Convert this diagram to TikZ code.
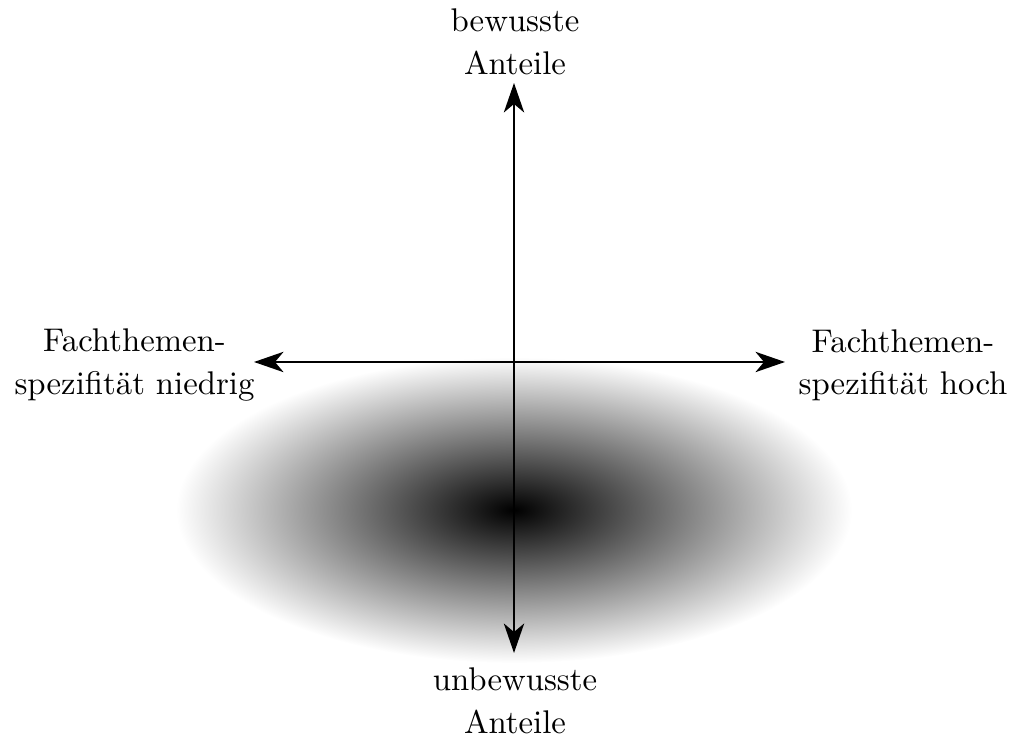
\documentclass[tikz,border=0pt]{standalone}
\usetikzlibrary{arrows.meta}
\begin{document}
\begin{tikzpicture}[x=0.305pt,y=-0.305pt,
  axis/.style={line width=0.6pt,{Stealth[length=9pt,width=6.2pt,inset=2.6pt]}-{Stealth[length=9pt,width=6.2pt,inset=2.6pt]}},
  lbl/.style={align=center,inner sep=0pt,font=\fontsize{10}{13}\selectfont}]
\useasboundingbox (0,0) rectangle (1012,738);
% shaded ellipse
\shade[inner color=black,outer color=white] (514,510) ellipse [x radius=338, y radius=153];
% axis end points
\coordinate (L) at (254,362);
\coordinate (R) at (785,362);
\coordinate (T) at (514,83);
\coordinate (B) at (514,653);
\draw[axis] (L) -- (R);
\draw[axis] (B) -- (T);
% labels
\node[lbl] (top) at (515,41.6) {bewusste\\Anteile};
\node[lbl] (bot) at (515,701) {unbewusste\\Anteile};
\node[lbl] (left) at (134.5,365.3) {Fachthemen-\\spezifität niedrig};
\node[lbl] (right) at (903,365.3) {Fachthemen-\\spezifität hoch};
\end{tikzpicture}
\end{document}
